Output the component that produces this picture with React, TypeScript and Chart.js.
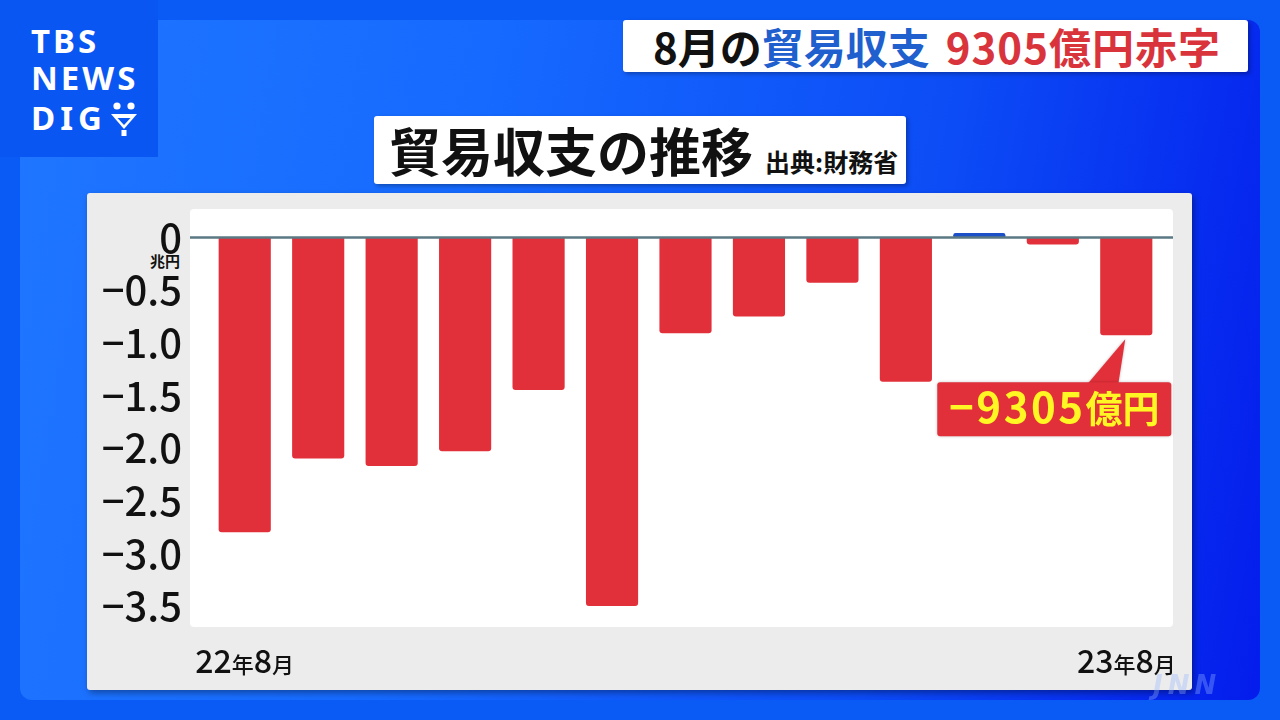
import React, { useEffect, useRef } from 'react';
import { Chart, registerables } from 'chart.js';

Chart.register(...registerables);

const CATEGORIES = ['22年8月', '9月', '10月', '11月', '12月', '23年1月', '2月', '3月', '4月', '5月', '6月', '7月', '23年8月'];
const VALUES = [-2.8, -2.1, -2.17, -2.03, -1.45, -3.5, -0.91, -0.75, -0.43, -1.37, 0.043, -0.066, -0.93];
const Y_TICKS = [0, -0.5, -1.0, -1.5, -2.0, -2.5, -3.0, -3.5];
const X_LABELS_SHOWN = ['22年8月', '23年8月'];
const ANNOTATION_PARTS = ['−9305', '億円'];
const UNIT_LABEL = '兆円';

const FONT = '"Noto Sans CJK JP", "Noto Sans", sans-serif';
const RED = '#e2303a';
const BLUE = '#1c50c8';

function drawMixed(
  ctx: CanvasRenderingContext2D,
  text: string,
  cx: number,
  baseline: number,
  bigFont: string,
  smallFont: string,
  color: string,
  spacing = 0
) {
  const segs = text.match(/[0-9.−\-]+|[^0-9.−\-]+/g) || [];
  const items = segs.map((s) => {
    const isNum = /[0-9.−\-]/.test(s[0]);
    ctx.font = isNum ? bigFont : smallFont;
    (ctx as any).letterSpacing = isNum ? spacing + 'px' : '0px';
    return { s, font: isNum ? bigFont : smallFont, sp: isNum ? spacing : 0, w: ctx.measureText(s).width };
  });
  const total = items.reduce((a, b) => a + b.w, 0);
  let x = cx - total / 2;
  ctx.fillStyle = color;
  ctx.textAlign = 'left';
  ctx.textBaseline = 'alphabetic';
  for (const it of items) {
    ctx.font = it.font;
    (ctx as any).letterSpacing = it.sp + 'px';
    ctx.fillText(it.s, x, baseline);
    x += it.w;
  }
  (ctx as any).letterSpacing = '0px';
}

const overlayPlugin = {
  id: 'overlay',
  afterDatasetsDraw(chart: any) {
    const ctx: CanvasRenderingContext2D = chart.ctx;
    const ys = chart.scales.y;
    const xs = chart.scales.x;
    const area = chart.chartArea;
    const y0 = ys.getPixelForValue(0);
    ctx.save();
    // zero line
    ctx.strokeStyle = '#5b7983';
    ctx.lineWidth = 2.5;
    ctx.beginPath();
    ctx.moveTo(area.left - 18, y0);
    ctx.lineTo(area.right + 10, y0);
    ctx.stroke();

    // x labels
    for (const lab of X_LABELS_SHOWN) {
      const idx = CATEGORIES.indexOf(lab);
      const cx = xs.getPixelForValue(idx);
      drawMixed(ctx, lab, cx, area.bottom + 46, `500 32px ${FONT}`, `500 22px ${FONT}`, '#111');
    }

    // annotation on last bar
    const meta = chart.getDatasetMeta(0);
    const el = meta.data[meta.data.length - 1];
    const bx = el.x;
    const by = el.y;
    const left = bx - 189;
    const right = bx + 45;
    const top = by + 47;
    const bottom = by + 101;
    ctx.fillStyle = RED;
    ctx.shadowColor = 'rgba(0,0,0,0.25)';
    ctx.shadowBlur = 3;
    ctx.beginPath();
    ctx.moveTo(bx - 39, top + 2);
    ctx.lineTo(bx - 1, by + 4);
    ctx.lineTo(bx - 8, top + 2);
    ctx.closePath();
    ctx.fill();
    ctx.beginPath();
    (ctx as any).roundRect(left, top, right - left, bottom - top, 3);
    ctx.fill();
    ctx.shadowBlur = 0;
    ctx.shadowColor = 'transparent';
    drawMixed(
      ctx,
      ANNOTATION_PARTS.join(''),
      (left + right) / 2,
      by + 88,
      `bold 42px ${FONT}`,
      `bold 37px ${FONT}`,
      '#fff623',
      2.5
    );
    ctx.restore();
  },
};

function ChartCanvas() {
  const ref = useRef<HTMLCanvasElement | null>(null);
  useEffect(() => {
    if (!ref.current) return;
    const chart = new Chart(ref.current, {
      type: 'bar',
      data: {
        labels: CATEGORIES,
        datasets: [
          {
            data: VALUES,
            backgroundColor: VALUES.map((v) => (v >= 0 ? BLUE : RED)),
            borderRadius: 3,
            borderSkipped: 'start',
            barPercentage: 0.71,
            categoryPercentage: 1,
          },
        ],
      },
      options: {
        responsive: false,
        maintainAspectRatio: false,
        animation: false,
        events: [],
        layout: { padding: { left: 0, right: 117, top: 209, bottom: 93 } },
        plugins: { legend: { display: false }, tooltip: { enabled: false } },
        scales: {
          x: { display: false },
          y: {
            min: -3.7,
            max: 0.27,
            grid: { display: false, drawTicks: false },
            border: { display: false },
            afterBuildTicks: (scale: any) => {
              scale.ticks = Y_TICKS.map((v) => ({ value: v }));
            },
            afterFit: (scale: any) => {
              scale.width = 208;
            },
            ticks: {
              padding: 26,
              color: '#111',
              font: { family: FONT, size: 40, weight: 500 as any },
              callback: (v: any) => (Number(v) === 0 ? '0' : '−' + Math.abs(Number(v)).toFixed(1)),
            },
          },
        },
      },
      plugins: [overlayPlugin],
    });
    return () => chart.destroy();
  }, []);
  return (
    <canvas
      ref={ref}
      width={1280}
      height={720}
      style={{ position: 'absolute', left: 0, top: 0, width: 1280, height: 720 }}
    />
  );
}

export default function App() {
  const logoLine = (t: string, top: number, spacing: number) => (
    <div
      style={{
        position: 'absolute',
        left: 31,
        top,
        fontFamily: '"Noto Sans", sans-serif',
        fontWeight: 700,
        fontSize: 33,
        lineHeight: '32px',
        letterSpacing: spacing,
        color: '#fff',
      }}
    >
      {t}
    </div>
  );
  return (
    <div
      style={{
        position: 'fixed',
        left: 0,
        top: 0,
        width: 1280,
        height: 720,
        overflow: 'hidden',
        background: '#0a5af6',
        fontFamily: FONT,
      }}
    >
      <div
        style={{
          position: 'absolute',
          left: 20,
          top: 20,
          width: 1240,
          height: 680,
          borderRadius: 12,
          background: 'linear-gradient(100deg, #1f76ff 0%, #166aff 35%, #0c4cf6 70%, #041cec 100%)',
        }}
      />
      <div style={{ position: 'absolute', left: 0, top: 0, width: 158, height: 157, background: '#0a56f2' }}>
        {logoLine('TBS', 25, 3)}
        {logoLine('NEWS', 62, 3)}
        {logoLine('DIG', 102, 5)}
        <svg style={{ position: 'absolute', left: 109, top: 100 }} width="30" height="38" viewBox="0 0 30 38">
          <circle cx="8" cy="6" r="3.6" fill="#fff" />
          <circle cx="22" cy="6" r="3.6" fill="#fff" />
          <path d="M2 14 L28 14 L15 29 Z" fill="#fff" />
          <path d="M8.5 18 L15 25 L21.5 18 Z" fill="#0a56f2" />
          <rect x="12.5" y="30" width="5" height="6" fill="#fff" />
        </svg>
      </div>
      <div
        style={{
          position: 'absolute',
          left: 623,
          top: 20,
          width: 625,
          height: 52,
          background: '#fff',
          borderRadius: 3,
          boxShadow: '2px 2px 4px rgba(0,0,0,0.3)',
          display: 'flex',
          alignItems: 'center',
          paddingLeft: 30,
          boxSizing: 'border-box',
          fontWeight: 700,
          fontSize: 42,
          lineHeight: 1,
          whiteSpace: 'nowrap',
        }}
      >
        <span style={{ color: '#111' }}>8月の</span>
        <span style={{ color: '#1f5fce' }}>貿易収支</span>
        <span style={{ color: '#d9343c', marginLeft: 16, letterSpacing: 1 }}>9305億円赤字</span>
      </div>
      <div
        style={{
          position: 'absolute',
          left: 374,
          top: 116,
          width: 532,
          height: 68,
          background: '#fff',
          borderRadius: 3,
          boxShadow: '2px 2px 4px rgba(0,0,0,0.3)',
          display: 'flex',
          alignItems: 'center',
          paddingLeft: 15,
          boxSizing: 'border-box',
          whiteSpace: 'nowrap',
        }}
      >
        <div style={{ display: 'flex', alignItems: 'baseline', fontWeight: 700, color: '#111' }}>
          <span style={{ fontSize: 52, lineHeight: 1, letterSpacing: 0 }}>貿易収支の推移</span>
          <span style={{ fontSize: 25, lineHeight: 1, marginLeft: 12 }}>出典:財務省</span>
        </div>
      </div>
      <div
        style={{
          position: 'absolute',
          left: 87,
          top: 193,
          width: 1105,
          height: 497,
          background: '#ececec',
          borderRadius: 3,
          boxShadow: '2px 3px 6px rgba(0,0,0,0.35)',
        }}
      />
      <div
        style={{
          position: 'absolute',
          left: 190,
          top: 209,
          width: 983,
          height: 418,
          background: '#fff',
          borderRadius: 4,
        }}
      />
      <div
        style={{
          position: 'absolute',
          left: 150,
          top: 252,
          fontSize: 15,
          lineHeight: '18px',
          fontWeight: 700,
          color: '#111',
        }}
      >
        {UNIT_LABEL}
      </div>
      <ChartCanvas />
      <div
        style={{
          position: 'absolute',
          left: 1153,
          top: 670,
          fontFamily: '"DejaVu Sans", sans-serif',
          fontStyle: 'italic',
          fontWeight: 900,
          fontSize: 26,
          letterSpacing: 5,
          color: 'rgba(150,180,255,0.35)',
        }}
      >
        JNN
      </div>
    </div>
  );
}
